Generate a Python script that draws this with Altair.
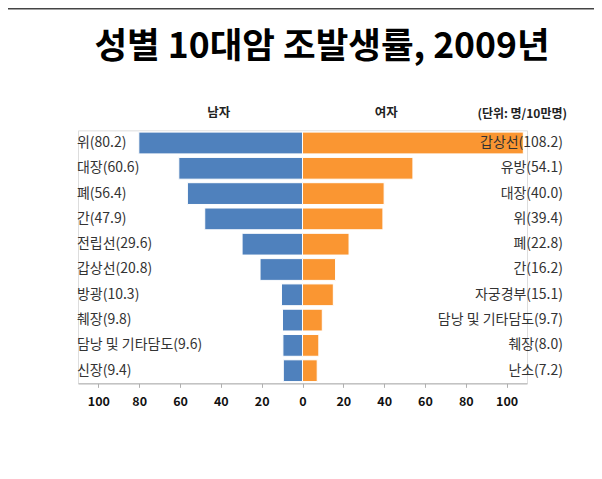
import altair as alt
import pandas as pd

title_text = "성별 10대암 조발생률, 2009년"
male_sites = ["위", "대장", "폐", "간", "전립선", "갑상선", "방광", "췌장", "담낭 및 기타담도", "신장"]
male_rates = [80.2, 60.6, 56.4, 47.9, 29.6, 20.8, 10.3, 9.8, 9.6, 9.4]
female_sites = ["갑상선", "유방", "대장", "위", "폐", "간", "자궁경부", "담낭 및 기타담도", "췌장", "난소"]
female_rates = [108.2, 54.1, 40.0, 39.4, 22.8, 16.2, 15.1, 9.7, 8.0, 7.2]
tick_values = [-100, -80, -60, -40, -20, 0, 20, 40, 60, 80, 100]

rows = []
for i, (s, r) in enumerate(zip(male_sites, male_rates)):
    rows.append({"rank": i + 1, "sex": "남자", "val": -r, "label": f"{s}({r:.1f})"})
for i, (s, r) in enumerate(zip(female_sites, female_rates)):
    rows.append({"rank": i + 1, "sex": "여자", "val": r, "label": f"{s}({r:.1f})"})
df = pd.DataFrame(rows)

FONT = "Noto Sans CJK KR"

y_enc = alt.Y("rank:O", axis=None,
              scale=alt.Scale(paddingInner=0.14, paddingOuter=0.07))
x_scale = alt.Scale(domain=[-110, 110], nice=False, zero=True)

base = alt.Chart(df)

bars = base.mark_bar(stroke="white", strokeWidth=1).encode(
    x=alt.X("val:Q", scale=x_scale, title=None,
            axis=alt.Axis(values=tick_values, labelExpr="abs(datum.value)",
                          grid=False, domainColor="#b0b0b0", tickColor="#b0b0b0",
                          tickSize=4, labelPadding=8, labelFont=FONT,
                          labelFontSize=12.5, labelFontWeight="bold",
                          labelColor="#111111")),
    y=y_enc,
    color=alt.Color("sex:N", legend=None,
                    scale=alt.Scale(domain=["남자", "여자"], range=["#4F81BD", "#FA9632"])),
)

male_text = base.transform_filter(alt.datum.sex == "남자").mark_text(
    align="left", baseline="middle", font=FONT, fontSize=14, color="#333333"
).encode(x=alt.value(-1), y=y_enc, text="label:N")

female_text = base.transform_filter(alt.datum.sex == "여자").mark_text(
    align="right", baseline="middle", font=FONT, fontSize=14, color="#333333"
).encode(x=alt.value(485), y=y_enc, text="label:N")

hdr_df = pd.DataFrame({"h": ["남자", "여자"], "pos": [-41, 41]})
headers = alt.Chart(hdr_df).mark_text(
    baseline="middle", font=FONT, fontSize=12.5, fontWeight="bold", color="#222222"
).encode(x=alt.X("pos:Q", scale=x_scale), y=alt.value(-17), text="h:N")

unit = alt.Chart(pd.DataFrame({"t": ["(단위: 명/10만명)"]})).mark_text(
    align="right", baseline="middle", font=FONT, fontSize=12, fontWeight="bold",
    color="#222222"
).encode(x=alt.value(489), y=alt.value(-16), text="t:N")

title = alt.Chart(pd.DataFrame({"t": [title_text]})).mark_text(
    align="center", baseline="middle", font=FONT, fontSize=35.5, fontWeight="bold",
    color="#000000"
).encode(x=alt.value(244), y=alt.value(-83), text="t:N")

frame_top = alt.Chart(pd.DataFrame({"a": [0]})).mark_rule(
    color="#444444", strokeWidth=1.5
).encode(x=alt.value(-78), x2=alt.value(520), y=alt.value(-121.5))
frame_left = alt.Chart(pd.DataFrame({"a": [0]})).mark_rule(
    color="#888888", strokeWidth=2.5
).encode(x=alt.value(-77), y=alt.value(-122), y2=alt.value(340))

chart = alt.layer(
    frame_top, frame_left, bars, male_text, female_text, headers, unit, title
).properties(
    width=449, height=253,
    autosize=alt.AutoSizeParams(type="none"),
    padding={"left": 78 - 8, "top": 122.35, "right": 67, "bottom": 85},
).configure_view(stroke=None).configure(background="white")

chart.save("out.html", embed_options={"renderer": "svg", "actions": False})
